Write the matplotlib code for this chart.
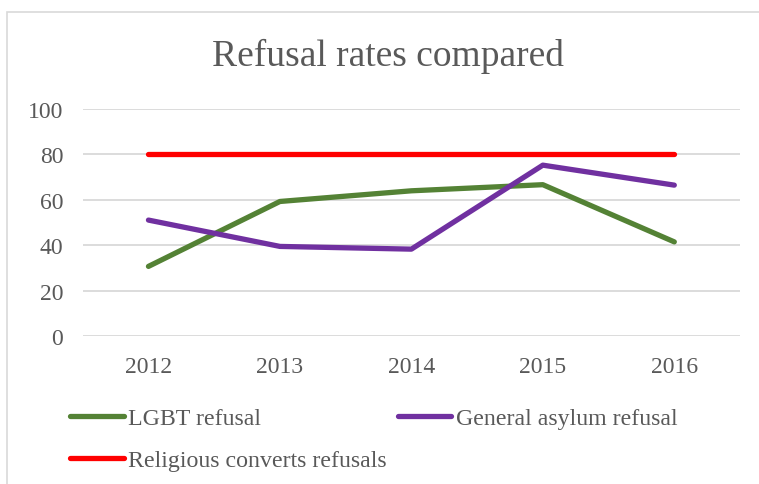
import matplotlib.pyplot as plt
from matplotlib.patches import Rectangle

years = ['2012', '2013', '2014', '2015', '2016']
lgbt = [30.7, 59.3, 64.0, 66.7, 41.5]
general = [51.1, 39.5, 38.3, 75.3, 66.5]
religious = [80, 80, 80, 80, 80]
y_ticks = [0, 20, 40, 60, 80, 100]

plt.rcParams['font.family'] = ['Liberation Serif', 'DejaVu Serif']
text_color = '#595959'

fig = plt.figure(figsize=(7.59, 4.85), dpi=100)
ax = fig.add_axes([0.109, 0.305, 0.866, 0.468])

# outer chart border (only left/top visible in the reference)
fig.patches.append(Rectangle((7 / 759, -0.1), 1.2, 1.1 - 13 / 485,
                             transform=fig.transFigure, fill=False,
                             edgecolor='#d9d9d9', linewidth=1.2))

x = list(range(len(years)))
l1, = ax.plot(x, lgbt, color='#548235', lw=3.8, solid_capstyle='round',
              solid_joinstyle='round', label='LGBT refusal')
l2, = ax.plot(x, general, color='#7030a0', lw=3.8, solid_capstyle='round',
              solid_joinstyle='round', label='General asylum refusal')
l3, = ax.plot(x, religious, color='#ff0000', lw=3.8, solid_capstyle='round',
              label='Religious converts refusals')

ax.set_xlim(-0.5, 4.5)
ax.set_ylim(0, 100)
ax.set_xticks(x)
ax.set_xticklabels(years)
ax.set_yticks(y_ticks)
ax.grid(axis='y', color='#d9d9d9', lw=1.3)
ax.set_axisbelow(True)
for s in ax.spines.values():
    s.set_visible(False)
ax.tick_params(length=0, labelsize=17, colors=text_color)
ax.tick_params(axis='x', pad=14)
ax.tick_params(axis='y', pad=14)

fig.text(0.511, 0.883, 'Refusal rates compared', ha='center', va='center',
         fontsize=27, color=text_color)

leg = fig.legend([l1, l3, l2],
                 ['LGBT refusal', 'Religious converts refusals', 'General asylum refusal'],
                 ncol=2, loc='upper left', bbox_to_anchor=(0.092, 0.158),
                 frameon=False, fontsize=17.2, handlelength=2.25, handletextpad=0.2,
                 columnspacing=0.45, labelspacing=0.85, borderaxespad=0,
                 borderpad=0)
for t in leg.get_texts():
    t.set_color(text_color)

fig.savefig('out.png', dpi=100)
